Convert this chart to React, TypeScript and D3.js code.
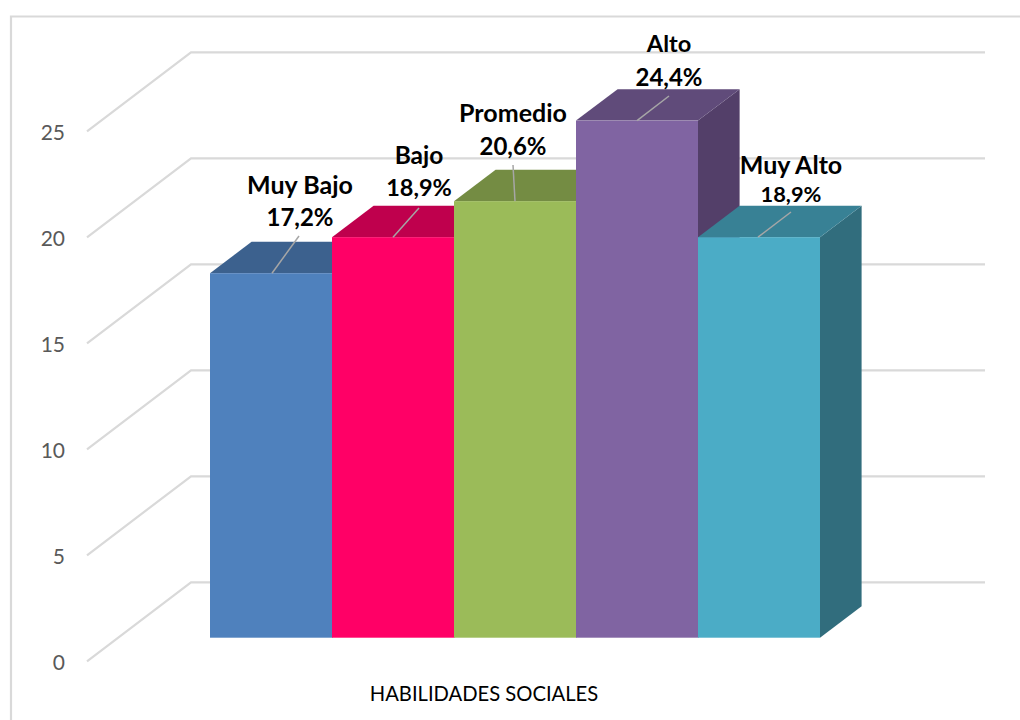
import React from "react";
import * as d3 from "d3";

const categories = ["Muy Bajo", "Bajo", "Promedio", "Alto", "Muy Alto"];
const values = [17.2, 18.9, 20.6, 24.4, 18.9];
const valueLabels = ["17,2%", "18,9%", "20,6%", "24,4%", "18,9%"];
const frontColors = ["#4f81bd", "#ff0066", "#9bbb59", "#8064a2", "#4bacc6"];
const topColors = ["#3c618e", "#bf004d", "#748c43", "#604b7a", "#388195"];
const sideColors = ["#335276", "#a60043", "#65793a", "#533f69", "#316d7d"];
const ticks = [0, 5, 10, 15, 20, 25];
const axisTitle = "HABILIDADES SOCIALES";

const FONT = "Lato, 'Open Sans', sans-serif";
const depthBar = { dx: 41.6, dy: -31.4 };
const floorFront = { x: 87, y: 661.3 };
const floorBack = { x: 191, y: 582.3 };
const gridRight = 985;

// Annotation placement: label centre, baselines and leader-line end.
const labelCx = [300, 419, 513, 669, 791];
const nameBase = [194, 164, 122, 52, 174];
const valueBase = [226, 196, 155, 86, 202];
const leaderStartX = [272, 393, 515, 637, 758];
const leaderEndX = [299, 419, 513, 669, 791];
const leaderEndY = [236, 208, 165, 96, 212];
const nameSize = [25, 24.5, 25, 23.6, 25];
const valueSize = [24, 23.5, 24, 24, 21.8];

const yBack = d3.scaleLinear().domain([0, 25]).range([floorBack.y, 52.3]);
const yFront = d3.scaleLinear().domain([0, 25]).range([637.7, 107.9]);
const yTick = d3.scaleLinear().domain([0, 25]).range([floorFront.y, 131.3]);
const x = d3.scaleBand<string>().domain(categories).range([210, 820]).padding(0);
const line = d3.line<[number, number]>();

export default function App() {
  const w = x.bandwidth();
  return (
    <svg
      width={1020}
      height={720}
      style={{ position: "absolute", left: 0, top: 0, background: "#fff" }}
      fontFamily={FONT}
    >
      <path d="M11 720V16.5H1020" fill="none" stroke="#d9d9d9" strokeWidth={2.2} />
      {ticks.map((t) => (
        <g key={t}>
          <path
            d={line([
              [floorFront.x, yTick(t)],
              [floorBack.x, yBack(t)],
              [gridRight, yBack(t)],
            ])!}
            fill="none"
            stroke="#d9d9d9"
            strokeWidth={2.2}
          />
          <text x={65} y={yTick(t) + 9} textAnchor="end" fontSize={21} fill="#595959">
            {t}
          </text>
        </g>
      ))}
      {categories.map((c, i) => {
        const x0 = x(c)!;
        const x1 = x0 + w;
        const yt = yFront(values[i]);
        const yb = yFront(0);
        const { dx, dy } = depthBar;
        return (
          <g key={c}>
            <path
              d={line([[x1, yt], [x1 + dx, yt + dy], [x1 + dx, yb + dy], [x1, yb]])! + "Z"}
              fill={sideColors[i]}
            />
            <path
              d={line([[x0, yt], [x0 + dx, yt + dy], [x1 + dx, yt + dy], [x1, yt]])! + "Z"}
              fill={topColors[i]}
            />
            <rect x={x0} y={yt} width={w} height={yb - yt} fill={frontColors[i]} />
          </g>
        );
      })}
      {categories.map((c, i) => (
        <g key={c}>
          <path
            d={line([
              [leaderStartX[i], yFront(values[i])],
              [leaderEndX[i], leaderEndY[i]],
            ])!}
            stroke="#a6a6a6"
            strokeWidth={1.5}
            fill="none"
          />
          <text x={labelCx[i]} y={nameBase[i]} textAnchor="middle" fontWeight={700} fontSize={nameSize[i]} fill="#000">
            {c}
          </text>
          <text x={labelCx[i]} y={valueBase[i]} textAnchor="middle" fontWeight={700} fontSize={valueSize[i]} fill="#000">
            {valueLabels[i]}
          </text>
        </g>
      ))}
      <text x={484} y={701} textAnchor="middle" fontSize={20.2} fill="#000">
        {axisTitle}
      </text>
    </svg>
  );
}
